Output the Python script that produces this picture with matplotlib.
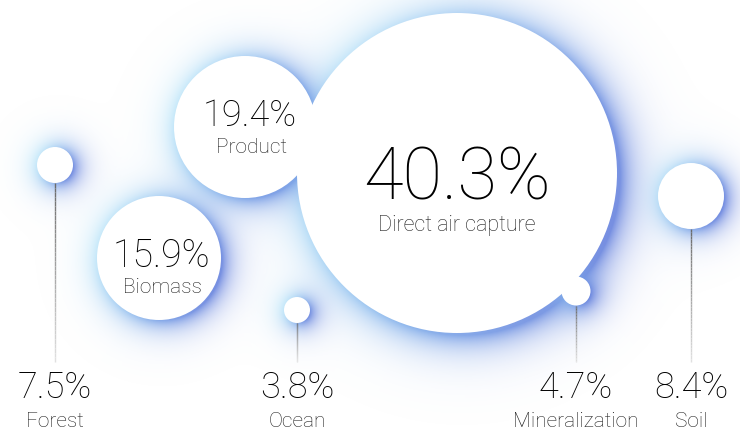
import matplotlib
matplotlib.use("Agg")
import matplotlib.pyplot as plt
import numpy as np
from matplotlib.patches import Circle
from matplotlib.collections import LineCollection
from matplotlib.colors import to_rgb

# data
names = ["Direct air capture", "Product", "Biomass", "Forest", "Ocean", "Mineralization", "Soil"]
values = [40.3, 19.4, 15.9, 7.5, 3.8, 4.7, 8.4]

# layout (pixels, y down)
cx = [457, 245, 159, 55, 297, 576, 691]
cy = [173, 127, 258, 165, 310, 291, 196]
rad = [160, 71, 62, 18, 13, 14.5, 33]
inside = [True, True, True, False, False, False, False]

W, H = 740, 430
fig = plt.figure(figsize=(7.4, 4.3), dpi=100)
ax = fig.add_axes([0, 0, 1, 1])
ax.set_xlim(0, W)
ax.set_ylim(H, 0)
ax.axis("off")

# soft glow behind the bubbles
xx, yy = np.meshgrid(np.arange(W) + 0.5, np.arange(H) + 0.5)
cyan = np.array(to_rgb("#96d6f6"))
blue = np.array(to_rgb("#5f7cdc"))
keep = np.ones((H, W))
col = np.zeros((H, W, 3))
wsum = np.zeros((H, W))
for x0, y0, r in zip(cx, cy, rad):
    ox = x0 + 2 + 0.02 * r
    oy = y0 + 1 + 0.02 * r
    d = np.hypot(xx - ox, yy - oy)
    w = 9.5 + 0.045 * r
    a = 0.85 * np.exp(-np.clip(d - r + 2, 0, None) / w)
    theta = np.arctan2(yy - oy, xx - ox)
    t = 0.5 + 0.5 * np.cos(theta - np.deg2rad(20))
    c = cyan[None, None, :] * (1 - t[..., None]) + blue[None, None, :] * t[..., None]
    keep *= 1 - a
    col += c * a[..., None]
    wsum += a
alpha = 1 - keep
col = col / np.maximum(wsum, 1e-9)[..., None]
img = np.dstack([col, alpha])
ax.imshow(img, extent=(0, W, H, 0), interpolation="bilinear", zorder=1)

for x0, y0, r in zip(cx, cy, rad):
    ax.add_patch(Circle((x0, y0), r, facecolor="white", edgecolor="none", zorder=3))

font = "Roboto"
num_c = "#000000"
lab_c = "#1e1e1e"
for i, (n, v) in enumerate(zip(names, values)):
    if inside[i]:
        continue
    y_top = cy[i] + rad[i]
    ys = np.linspace(y_top, 362, 40)
    segs = [[(cx[i], ys[k]), (cx[i], ys[k + 1])] for k in range(len(ys) - 1)]
    g = np.linspace(0.42, 0.88, len(segs))
    lc = LineCollection(segs, colors=[(s, s, s) for s in g], linewidths=1.0, zorder=2)
    ax.add_collection(lc)
    ax.text(cx[i], 398, f"{v}%", ha="center", va="baseline", fontsize=26, family=font,
            fontweight="light", color=num_c, zorder=4)
    ax.text(cx[i], 427, n, ha="center", va="baseline", fontsize=15, family=font,
            fontweight="light", color=lab_c, zorder=4)

# labels inside the big bubbles
ax.text(cx[0], 200, f"{values[0]}%", ha="center", va="baseline", fontsize=52, family=font,
        fontweight="light", color=num_c, zorder=4)
ax.text(cx[0], 231, names[0], ha="center", va="baseline", fontsize=15.5, family=font,
        fontweight="light", color=lab_c, zorder=4)
ax.text(250, 126, f"{values[1]}%", ha="center", va="baseline", fontsize=26, family=font,
        fontweight="light", color=num_c, zorder=4)
ax.text(252, 153, names[1], ha="center", va="baseline", fontsize=15, family=font,
        fontweight="light", color=lab_c, zorder=4)
ax.text(161, 267, f"{values[2]}%", ha="center", va="baseline", fontsize=27, family=font,
        fontweight="light", color=num_c, zorder=4)
ax.text(162, 293, names[2], ha="center", va="baseline", fontsize=15, family=font,
        fontweight="light", color=lab_c, zorder=4)

fig.savefig("out.png", dpi=100)
